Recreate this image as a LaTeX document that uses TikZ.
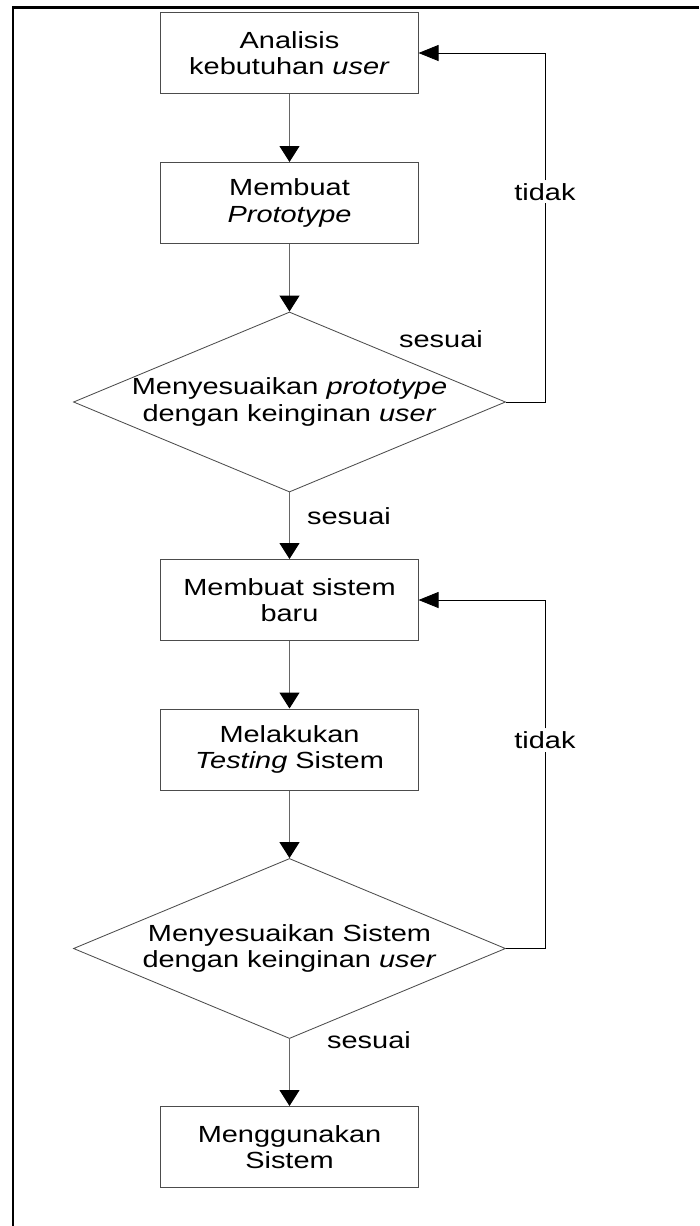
\documentclass[tikz,border=0pt]{standalone}
\usepackage{fontspec}
\setmainfont{Liberation Sans}[FakeStretch=1.24]
\usetikzlibrary{shapes.geometric, arrows.meta}

\begin{document}
\begin{tikzpicture}[x=0.025cm, y=-0.025cm,
  font=\fontsize{16.6}{18.8}\selectfont,
  proses/.style={draw=black!70, line width=0.7pt, minimum width=6.425cm, minimum height=2.025cm, align=center, inner sep=0pt},
  cek/.style={diamond, draw=black!70, line width=0.6pt, aspect=2.4, minimum width=10.8cm, minimum height=4.5cm, align=center, inner sep=0pt},
  ket/.style={fill=white, inner sep=2pt},
  panah/.style={draw=black!60, line width=0.8pt, -{Triangle[length=0.4cm, width=0.5cm, color=black]}},
  balik/.style={draw=black, line width=0.6pt, -{Triangle[length=0.5cm, width=0.4cm, color=black]}}]
  \useasboundingbox (0,0) rectangle (699,1226);

  % Frame (top and left only)
  \draw[line width=1.6pt] (13,1226) -- (13,7.5) -- (699,7.5);

  % Steps
  \node[proses] (analisis) at (289.5,53) {Analisis\\kebutuhan \textit{user}};
  \node[proses] (prototipe) at (289.5,203) {Membuat\\\textit{Prototype}};
  \node[cek] (cek1) at (289.5,402) {Menyesuaikan \textit{prototype}\\dengan keinginan \textit{user}};
  \node[proses] (sistem) at (289.5,600) {Membuat sistem\\baru};
  \node[proses] (testing) at (289.5,749.5) {Melakukan\\\textit{Testing} Sistem};
  \node[cek] (cek2) at (289.5,948.5) {Menyesuaikan Sistem\\dengan keinginan \textit{user}};
  \node[proses] (pakai) at (289.5,1147) {Menggunakan\\Sistem};

  % Labels
  \node[ket] (tidak1) at (545,191.7) {tidak};
  \node[ket] (tidak2) at (545,740) {tidak};
  \node (sesuai1) at (441,339.5) {sesuai};
  \node (sesuai2) at (349,516.5) {sesuai};
  \node (sesuai3) at (369,1040.5) {sesuai};

  % Arrows down
  \draw[panah] (analisis) -- (prototipe);
  \draw[panah] (prototipe) -- (cek1);
  \draw[panah] (cek1) -- (sistem);
  \draw[panah] (sistem) -- (testing);
  \draw[panah] (testing) -- (cek2);
  \draw[panah] (cek2) -- (pakai);

  % Loops back
  \draw[balik] (cek1.east) -| (tidak1) |- (analisis.east);
  \draw[balik] (cek2.east) -| (tidak2) |- (sistem.east);

\end{tikzpicture}
\end{document}
